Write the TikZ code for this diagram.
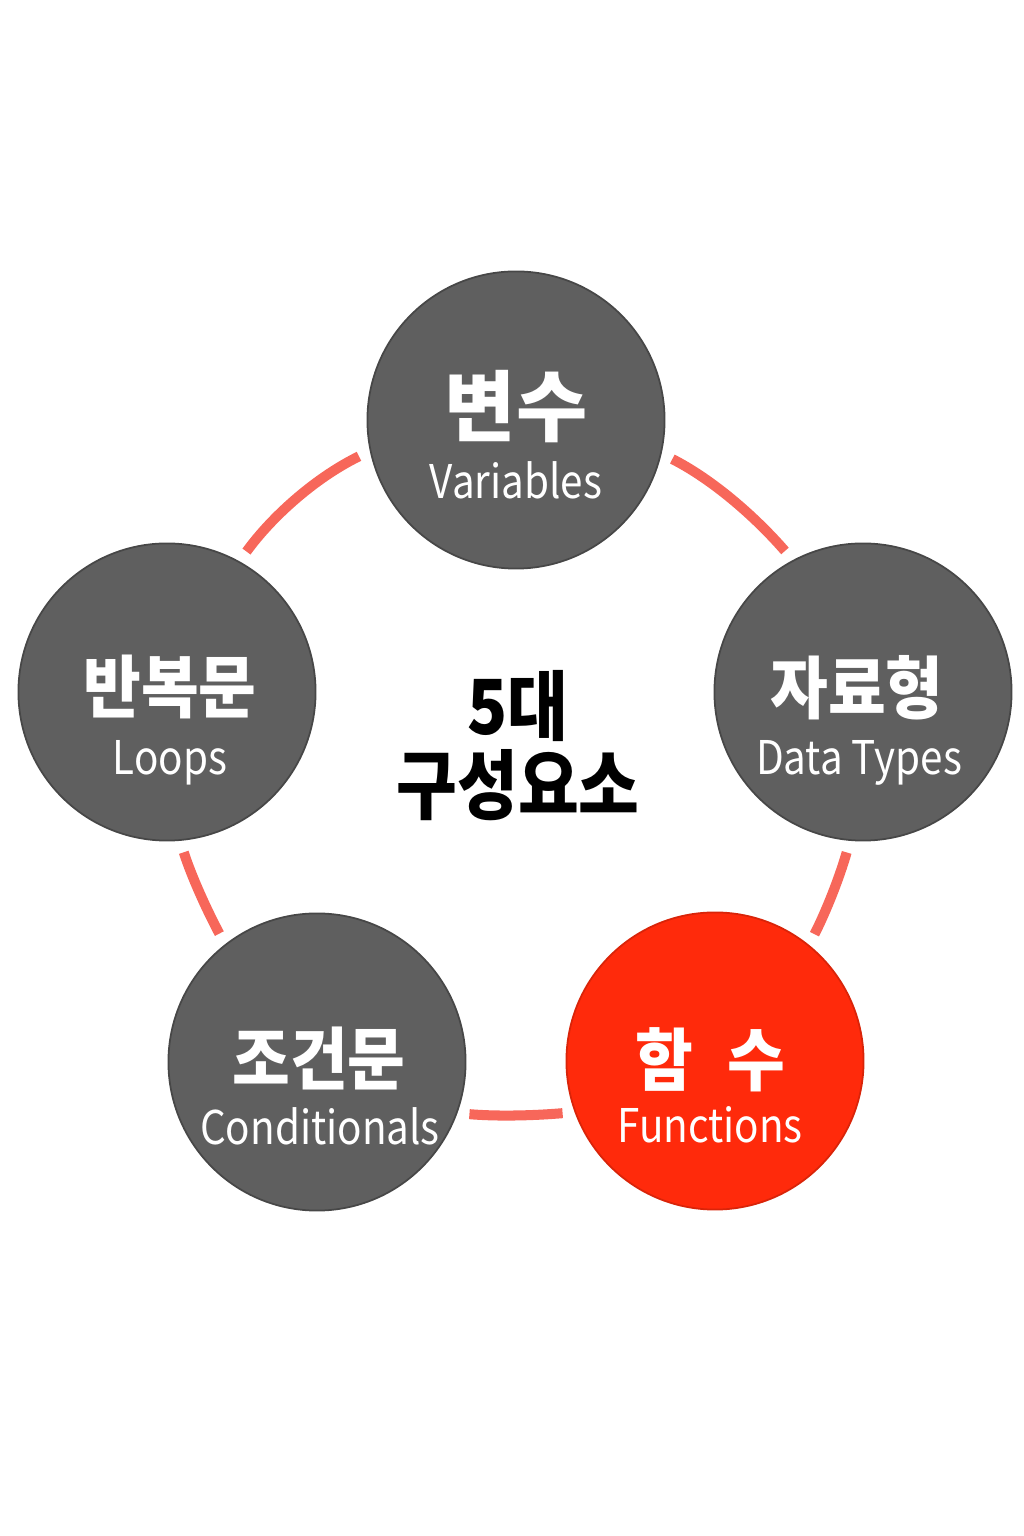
\documentclass[tikz,border=0pt]{standalone}
\usepackage{fontspec}
\setmainfont{Noto Sans CJK KR}[FakeStretch=0.87]
\newfontfamily\krfont{Noto Sans CJK KR}
\newfontfamily\krnarrow{Noto Sans CJK KR}[FakeStretch=0.92]
\newfontfamily\corefont{Noto Sans CJK KR}[FakeStretch=0.87]
\usetikzlibrary{positioning,calc}
\definecolor{nodegray}{HTML}{5F5F5F}
\definecolor{nodered}{HTML}{FF2A0B}
\definecolor{ringred}{HTML}{F7675A}
\tikzset{
  bubble/.style={circle,fill=nodegray,draw=nodegray!75!black,line width=0.5pt,minimum size=2.97cm,inner sep=0pt},
  hotbubble/.style={bubble,fill=nodered,draw=nodered!85!black},
  ring/.style={line width=2.85pt,ringred,shorten <=0.12cm,shorten >=0.12cm,looseness=0.87},
  headtext/.style={font=\krnarrow\bfseries\fontsize{19.4pt}{22pt}\selectfont,text=white,inner sep=0pt},
  subtext/.style={font=\fontsize{13.2pt}{16pt}\selectfont,text=white,inner sep=0pt,anchor=base},
  coretext/.style={font=\corefont\bfseries\fontsize{21.6pt}{22.5pt}\selectfont,align=center,inner sep=0pt}
}

\begin{document}
\begin{tikzpicture}[x=0.01cm,y=0.01cm]
\useasboundingbox (0,0) rectangle (1024,1536);
% the five parts
\node[bubble] (var) at (516,1116) {};
\node[bubble] (dat) at (863,844) {};
\node[hotbubble] (fun) at (715,475) {};
\node[bubble] (cond) at (317,474) {};
\node[bubble] (loop) at (167,844) {};
\node[headtext,font=\krfont\bfseries\fontsize{22pt}{24pt}\selectfont] (var-kr) at (516,1129) {변수};
\node[subtext] (var-en) at (516,1037) {Variables};
\node[headtext] (dat-kr) at (857,848) {자료형};
\node[subtext] (dat-en) at (859,761) {Data Types};
\node[headtext] (fun-kr) at (710,476) {함\enspace{}수};
\node[subtext] (fun-en) at (710,393) {Functions};
\node[headtext] (cond-kr) at (319,478) {조건문};
\node[subtext] (cond-en) at (320,391) {Conditionals};
\node[headtext] (loop-kr) at (170,849) {반복문};
\node[subtext] (loop-en) at (170,761) {Loops};
\node[coretext] (core) at (518,790) {5대\\구성요소};
% ring pieces, clockwise
\foreach \from/\to/\sa/\ta/\so/\ti in {var/dat/-13/118/-27/131, dat/fun/-95/51/-106/63,
    fun/cond/200/-20/185/-5, cond/loop/128/-85/118/-72, loop/var/61/-168/54/-154}
  \draw[ring] (\from.\sa) to[out=\so,in=\ti] (\to.\ta);
\end{tikzpicture}
\end{document}
